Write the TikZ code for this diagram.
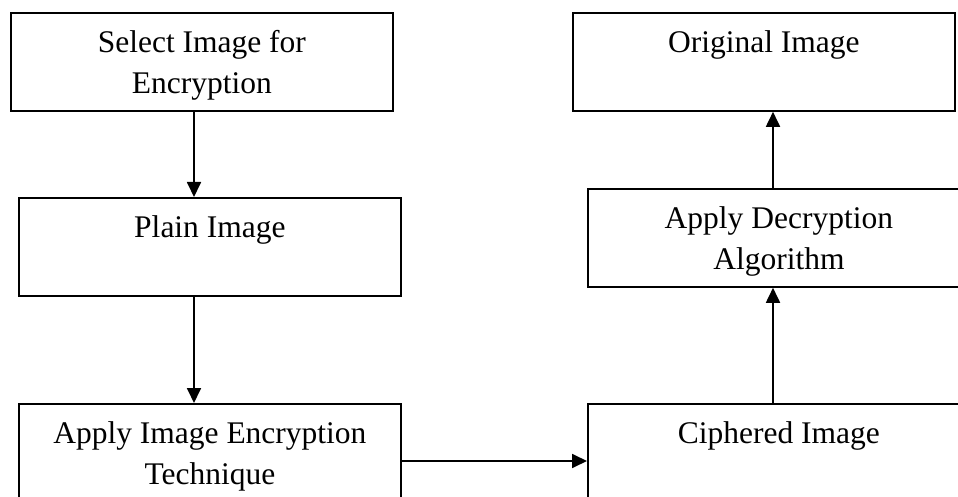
\documentclass[tikz,border=0pt]{standalone}
\usepackage{fontspec}
\setmainfont{Liberation Serif}
\usetikzlibrary{arrows.meta}
\newcommand\boxtext[2]{\parbox[c][98pt][t]{#1}{\centering\fontsize{31.5}{41}\selectfont\rule{0pt}{40pt}#2\par}}
\begin{document}
\begin{tikzpicture}[x=1pt,y=-1pt,
  stepbox/.style={draw=black,line width=1.8pt,inner sep=0pt,anchor=north west,minimum width=382pt,minimum height=98pt},
  arr/.style={line width=1.8pt,-{Triangle[length=15pt,width=14pt]}}]
\useasboundingbox (0,0) rectangle (958,497);
\clip (0,0) rectangle (958,497);
\fill[white] (0,0) rectangle (958,497);
\coordinate (lx) at (194,0);
\coordinate (rx) at (773,0);
\coordinate (hy) at (0,461);
\node[stepbox] (sel) at (10,12) {\boxtext{382pt}{Select Image for\\Encryption}};
\node[stepbox] (plain) at (18,197) {\boxtext{382pt}{Plain Image}};
\node[stepbox] (enc) at (18,403) {\boxtext{382pt}{Apply Image Encryption\\Technique}};
\node[stepbox] (orig) at (572,12) {\boxtext{382pt}{Original Image}};
\node[stepbox] (dec) at (587,188) {\boxtext{382pt}{Apply Decryption\\Algorithm}};
\node[stepbox] (cip) at (587,403) {\boxtext{382pt}{Ciphered Image}};
\draw[arr] (sel.south -| lx) -- (plain.north -| lx);
\draw[arr] (plain.south -| lx) -- (enc.north -| lx);
\draw[arr] (enc.east |- hy) -- (cip.west |- hy);
\draw[arr] (cip.north -| rx) -- (dec.south -| rx);
\draw[arr] (dec.north -| rx) -- (orig.south -| rx);
\end{tikzpicture}
\end{document}
